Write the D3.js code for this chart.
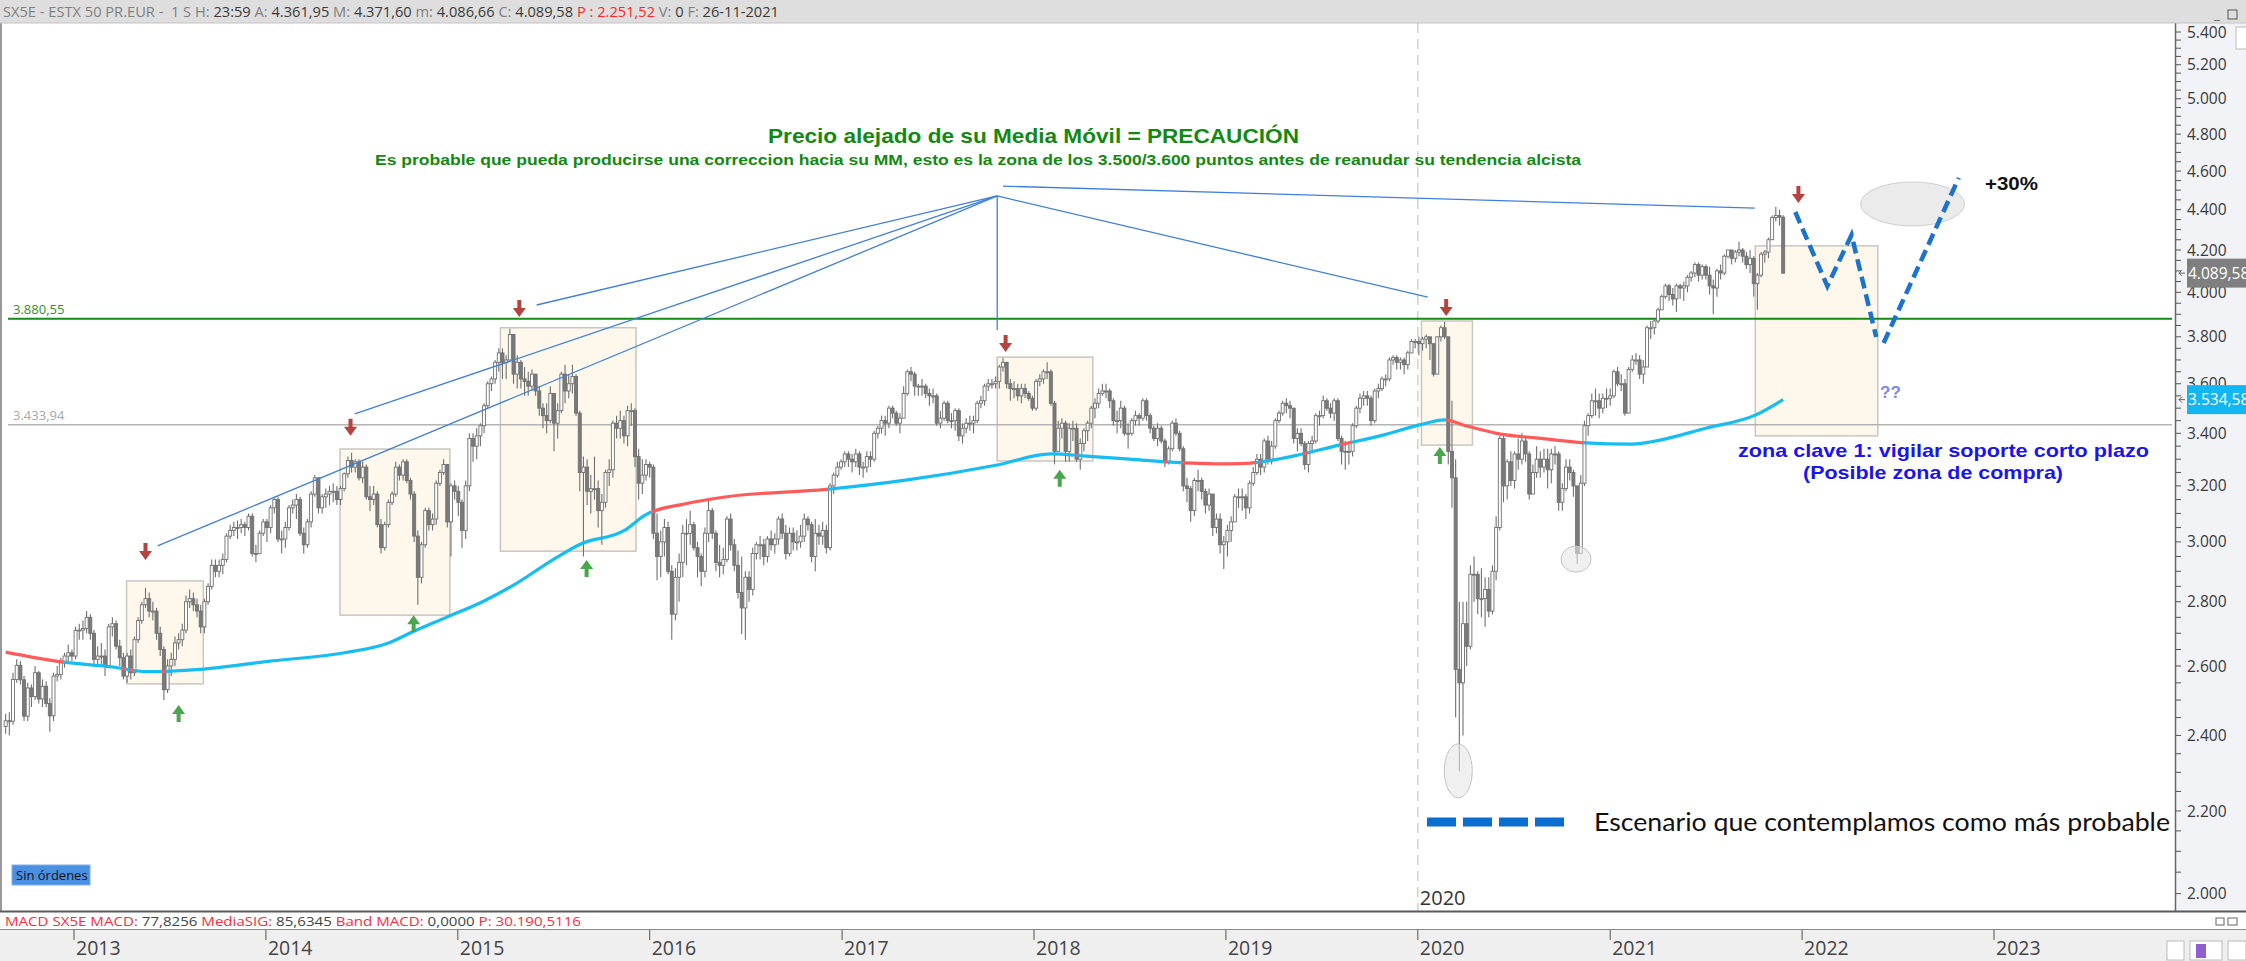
<!DOCTYPE html>
<html lang="es">
<head>
<meta charset="utf-8">
<title>SX5E semanal</title>
<script src="https://d3js.org/d3.v7.min.js"></script>
<style>
  body { margin: 0; background: #fff; }
  svg { display: block; }
  text { font-family: "Open Sans", "Noto Sans", sans-serif; }
  .arial { font-family: "Liberation Sans", Arial, sans-serif; }
  .calibri { font-family: Lato, "Open Sans", sans-serif; }
</style>
</head>
<body>
<script>

// ---- Datos: velas semanales SX5E (cierre, máximo, mínimo), apertura = cierre anterior ----
var firstWeek = "2012-08-24";
var lastWeek = "2021-11-26";
var firstOpen = 2425;

var closes = [
  2441,2440,2560,2602,2559,2454,2535,2510,2580,2503,2540,2490,2455,2570,2575,2610,2630,2640,2630,
  2709,2710,2715,2750,2700,2620,2630,2630,2600,2720,2730,2660,2625,2570,2630,2580,2680,2740,2790,2810,2770,2770,2700,2650,2530,2600,2620,2670,2680,2710,2800,2810,2790,2770,2720,2800,2850,2920,2900,2920,2940,3020,3040,3050,3050,3060,3050,3090,2960,2960,3030,3070,
  3050,3120,3150,3010,3010,3050,3120,3130,3150,3030,2990,3070,3170,3230,3120,3160,3170,3180,3180,3150,3190,3245,3295,3270,3290,3230,3270,3160,3150,3170,3060,2980,3060,3140,3170,3270,3240,3290,3220,3170,3020,2880,2990,3110,3060,3080,3210,3250,3280,3070,3200,3180,
  3140,3040,3200,3380,3350,3390,3430,3510,3600,3620,3690,3730,3690,3700,3810,3640,3690,3620,3610,3590,3640,3570,3500,3470,3450,3560,3440,3490,3640,3570,3600,3630,3480,3250,3270,3180,3190,3190,3110,3140,3250,3260,3440,3420,3450,3390,3490,3490,3310,3210,3240,3280,
  3270,3030,2950,3000,3050,2900,2760,2880,2930,3030,3030,3060,2980,2950,2900,3030,3110,3030,2930,2920,2940,3080,2990,2920,2830,2780,2880,2840,2960,2990,2990,2950,3010,2990,3010,3080,3030,2960,3030,3000,3000,3020,3080,3060,2950,3030,3020,3040,2980,3200,3240,3270,3290,
  3320,3300,3290,3320,3270,3270,3310,3300,3400,3420,3450,3440,3500,3480,3440,3460,3560,3650,3640,3590,3590,3590,3560,3550,3550,3440,3460,3520,3450,3450,3490,3390,3420,3440,3440,3450,3520,3530,3590,3600,3600,3610,3670,3690,3600,3580,3580,3550,3580,3560,3540,3500,
  3610,3620,3650,3650,3520,3330,3420,3440,3330,3420,3420,3300,3360,3410,3440,3500,3520,3560,3570,3570,3530,3450,3450,3500,3400,3400,3450,3470,3460,3530,3470,3420,3380,3420,3370,3290,3340,3440,3400,3340,3200,3190,3110,3220,3220,3180,3130,3170,3050,3080,2990,3000,
  3040,3070,3160,3160,3160,3120,3210,3250,3300,3270,3370,3300,3350,3450,3480,3520,3510,3500,3380,3400,3360,3280,3360,3370,3470,3470,3530,3500,3480,3530,3380,3330,3330,3330,3430,3500,3540,3550,3540,3450,3570,3580,3620,3620,3700,3710,3690,3700,3680,3730,3780,3780,
  3770,3790,3800,3770,3640,3800,3840,3800,3330,3230,2590,2550,2730,2660,2890,2890,2810,2810,2840,2770,2900,3050,3380,3200,3290,3220,3320,3300,3370,3320,3170,3250,3300,3270,3300,3260,3320,3320,3140,3190,3270,3250,3200,2960,3210,3430,3470,3530,3530,3500,3540,3540,
  3550,3650,3600,3600,3480,3660,3700,3700,3640,3670,3840,3840,3870,3920,3980,4030,3990,3970,4030,4020,4030,4070,4090,4130,4080,4120,4080,4030,4020,4100,4090,4170,4200,4160,4190,4200,4170,4130,4160,4040,4080,4180,4190,4250,4360,4370,4361.95,4089.58
];

var highs = [
  2460,2465,2580,2620,2615,2570,2550,2545,2600,2585,2560,2555,2505,2580,2600,2625,2640,2665,2650,
  2720,2730,2740,2770,2760,2710,2660,2670,2650,2730,2750,2740,2680,2640,2640,2650,2690,2750,2800,2845,2830,2800,2780,2720,2660,2620,2640,2690,2700,2730,2820,2840,2830,2810,2790,2810,2860,2940,2940,2940,2960,3030,3060,3070,3075,3080,3070,3100,3100,2990,3040,3080,
  3080,3130,3160,3160,3040,3070,3130,3150,3170,3160,3050,3080,3180,3240,3230,3170,3190,3200,3210,3200,3200,3250,3310,3325,3300,3300,3290,3280,3200,3200,3180,3080,3070,3150,3180,3290,3280,3300,3300,3230,3180,3040,3000,3120,3120,3100,3220,3260,3300,3280,3210,3220,
  3200,3150,3220,3400,3400,3420,3440,3520,3610,3630,3700,3750,3750,3720,3836,3810,3720,3700,3670,3650,3660,3640,3590,3520,3520,3590,3560,3520,3650,3680,3640,3680,3640,3490,3310,3300,3240,3310,3220,3170,3260,3300,3450,3470,3490,3470,3510,3520,3500,3340,3300,3300,
  3290,3280,3100,3040,3080,3070,2920,2910,2960,3060,3080,3110,3070,3000,2960,3050,3150,3120,3040,2990,2980,3090,3100,3010,2970,2950,2900,2900,2980,3000,3020,3010,3020,3040,3030,3090,3100,3060,3050,3050,3040,3060,3100,3090,3070,3080,3060,3070,3060,3210,3250,3290,3300,
  3330,3330,3320,3340,3330,3290,3330,3330,3410,3430,3470,3470,3510,3510,3490,3480,3590,3660,3670,3650,3600,3620,3600,3580,3580,3560,3490,3530,3530,3480,3500,3500,3440,3460,3470,3470,3530,3550,3600,3620,3620,3630,3680,3709,3690,3620,3610,3600,3600,3600,3570,3550,
  3620,3640,3660,3690,3660,3530,3450,3460,3450,3440,3450,3440,3380,3420,3450,3510,3540,3580,3600,3600,3580,3540,3490,3530,3510,3440,3460,3490,3480,3540,3540,3480,3430,3440,3430,3380,3350,3450,3460,3410,3350,3230,3200,3230,3260,3230,3190,3190,3170,3100,3100,3020,
  3060,3090,3170,3190,3190,3170,3220,3270,3320,3320,3380,3390,3370,3460,3490,3530,3540,3530,3500,3420,3420,3370,3370,3390,3480,3490,3550,3540,3520,3540,3540,3390,3370,3360,3440,3510,3560,3570,3570,3550,3580,3600,3630,3640,3710,3720,3720,3710,3710,3740,3790,3790,
  3800,3800,3810,3800,3760,3800,3850,3867,3800,3530,3300,2800,2800,2800,2920,2950,2900,2910,2880,2880,2920,3090,3390,3390,3300,3330,3330,3380,3400,3390,3330,3280,3350,3330,3340,3340,3340,3350,3330,3210,3300,3300,3260,3200,3240,3450,3480,3560,3580,3560,3560,3580,
  3580,3660,3670,3640,3620,3670,3720,3730,3720,3700,3850,3870,3880,3930,3990,4040,4040,4020,4040,4040,4050,4080,4100,4140,4140,4130,4130,4120,4060,4110,4130,4180,4200,4200,4200,4240,4210,4190,4200,4170,4090,4190,4200,4260,4370,4415,4400,4371.6
];

var lows = [
  2405,2400,2430,2550,2545,2440,2440,2480,2500,2490,2480,2480,2410,2440,2555,2560,2595,2610,2615,
  2620,2680,2680,2700,2680,2600,2600,2600,2570,2600,2690,2650,2600,2560,2550,2560,2570,2670,2730,2780,2750,2740,2680,2630,2500,2520,2570,2600,2650,2660,2700,2780,2770,2750,2700,2700,2790,2840,2880,2880,2890,2930,3010,3020,3010,3030,3020,3040,2950,2930,2960,3020,
  3000,3030,3100,3000,2960,2980,3040,3100,3080,3020,2960,2980,3050,3160,3100,3100,3120,3130,3140,3130,3130,3180,3230,3250,3250,3220,3210,3150,3110,3130,3050,2960,2970,3050,3130,3160,3220,3220,3210,3150,3000,2790,2860,2980,3040,3040,3060,3200,3240,3050,2950,3150,
  3090,2980,3010,3180,3290,3300,3350,3400,3500,3570,3600,3650,3620,3620,3690,3600,3580,3580,3550,3550,3570,3550,3470,3420,3400,3440,3330,3380,3480,3520,3540,3560,3470,3180,2950,3130,3100,3150,3050,2990,3120,3200,3230,3380,3380,3360,3350,3430,3270,3150,3170,3220,
  3230,3010,2870,2880,2950,2890,2680,2740,2800,2880,2920,2990,2970,2880,2850,2880,3000,3010,2900,2880,2890,2930,2970,2900,2810,2698,2680,2800,2820,2940,2940,2920,2930,2970,2960,2990,3010,2940,2950,2970,2970,2980,3000,3040,2930,2900,2990,2990,2960,2970,3170,3230,3260,
  3270,3270,3250,3270,3240,3230,3250,3270,3290,3380,3400,3390,3420,3460,3430,3400,3470,3550,3610,3550,3550,3550,3540,3510,3520,3430,3420,3450,3440,3420,3410,3370,3360,3400,3410,3400,3440,3500,3510,3570,3580,3580,3580,3650,3580,3530,3540,3530,3520,3540,3530,3490,
  3490,3590,3600,3620,3510,3280,3330,3380,3290,3290,3370,3290,3260,3330,3370,3420,3460,3500,3550,3540,3500,3430,3400,3420,3390,3340,3390,3430,3430,3450,3450,3400,3370,3350,3360,3270,3280,3330,3390,3330,3180,3140,3070,3090,3180,3150,3100,3110,3020,3030,2960,2908,
  2950,3000,3070,3120,3110,3080,3100,3200,3240,3240,3250,3280,3280,3340,3440,3470,3480,3460,3360,3330,3350,3260,3250,3330,3360,3430,3460,3490,3460,3450,3370,3280,3260,3280,3310,3420,3480,3510,3510,3430,3440,3540,3570,3590,3610,3680,3660,3660,3640,3660,3730,3750,
  3720,3740,3750,3700,3630,3640,3780,3790,3280,3120,2450,2302,2400,2600,2650,2800,2760,2750,2720,2750,2760,2870,3040,3140,3150,3200,3190,3260,3280,3290,3150,3170,3230,3230,3250,3190,3210,3280,3110,3110,3180,3220,3160,2925,2970,3200,3390,3460,3470,3460,3480,3500,
  3510,3540,3590,3570,3470,3480,3650,3680,3620,3600,3680,3790,3810,3860,3920,3970,3960,3940,3910,3970,3960,4000,4050,4070,4050,4060,4060,3990,3900,3980,4060,4080,4160,4130,4140,4170,4140,4110,4090,3980,3920,4070,4140,4160,4250,4340,4320,4086.66
];

// Media móvil
var maDates = ["2012-08-24","2012-12-01","2013-03-15","2013-05-20","2013-08-28","2014-01-05","2014-05-30","2014-08-22",
  "2014-10-05","2014-12-10","2015-02-17","2015-04-16","2015-07-09","2015-08-22","2015-11-14","2015-12-24","2016-03-07",
  "2016-05-30","2016-12-02","2017-05-05","2017-10-23","2018-02-02","2018-04-10","2018-07-02","2018-09-10","2019-01-05",
  "2019-02-17","2019-04-27","2019-08-04","2019-10-27","2020-01-04","2020-02-21","2020-04-01","2020-05-30","2020-08-22",
  "2020-11-07","2021-02-13","2021-03-21","2021-07-02","2021-10-05","2021-11-26"];
var maValues = [2642,2614,2597,2583,2590,2614,2640,2670,2703,2750,2800,2853,2948,2992,3040,3095,3134,
  3161,3187,3222,3278,3320,3312,3300,3290,3282,3285,3307,3354,3393,3433,3453,3430,3400,3380,3364,3358,3367,3420,3473,3534.58];

var priceTicks = d3.range(2000, 5401, 200);
var yearTicks = d3.range(2013, 2024);
var resistance = 3880.55;
var support = 3433.94;

// Anotaciones (fechas y niveles)
var zoneFrom = ["2013-04-11","2014-05-22","2015-03-23","2017-10-23","2020-01-08","2021-10-04"];
var zoneTo   = ["2013-09-04","2014-12-17","2015-12-06","2018-04-23","2020-04-14","2022-05-25"];
var zoneHigh = [2868, 3339, 3840, 3712, 3870, 4220];
var zoneLow  = [2547, 2757, 2968, 3293, 3354, 3390];

var sellArrows = [["2013-05-17",2938],["2014-06-11",3390],["2015-04-28",3888],["2017-11-08",3734],["2020-02-24",3892],["2021-12-25",4434]];
var buyArrows = [["2013-07-19",2486],["2014-10-09",2757],["2015-09-03",2938],["2018-02-19",3260],["2020-02-12",3347]];

var fanOrigin = ["2017-10-23", 4470];
var fanEnds = [["2013-06-09",2986],["2014-06-19",3477],["2015-05-31",3942],["2017-10-23",3830],["2020-01-20",3978]];
var topLine = [["2017-11-03",4521],["2021-10-03",4408]];

var scenarioA = [["2021-12-19",4388],["2022-02-18",4029],["2022-04-05",4273],["2022-05-22",3799]];
var scenarioB = [["2022-06-05",3773],["2022-10-26",4564]];

var lowRings = [["2020-03-18",2304],["2020-10-28",2941]];
var targetRing = ["2022-07-30",4429];

// ---- Dibujo ----
var w = 2246, h = 961;
var plot = {left: 3, right: 2175, top: 23, bottom: 911};
var cyan = "#16bdf2", red = "#ff5a5a", grey = "#707070";

var parse = d3.timeParse("%Y-%m-%d");
var loc = d3.formatLocale({decimal: ",", thousands: ".", grouping: [3], currency: ["", "€"]});
var fmtInt = loc.format(",d"), fmt2 = loc.format(",.2f");

var x = d3.scaleTime()
    .domain([new Date(2013, 0, 1), new Date(2023, 0, 1)])
    .range([74, 1994]);
var y = d3.scaleLog()
    .domain([2000, 5400])
    .range([893.6, 32]);
var pt = function(d) { return [x(parse(d[0])), y(d[1])]; };

var svg = d3.select("body").append("svg")
    .attr("width", w)
    .attr("height", h);

var defs = svg.append("defs");
defs.append("clipPath").attr("id", "clip")
  .append("rect")
    .attr("x", plot.left).attr("y", plot.top)
    .attr("width", plot.right - plot.left).attr("height", plot.bottom - plot.top);

// fondo
svg.append("rect").attr("width", w).attr("height", h).attr("fill", "#fff");
svg.append("rect").attr("x", plot.right).attr("y", plot.top)
    .attr("width", w - plot.right).attr("height", plot.bottom - plot.top).attr("fill", "#f2f3f6");

var g = svg.append("g").attr("clip-path", "url(#clip)");

// cajas de zona
zoneFrom.forEach(function(d, i) {
  var x0 = x(parse(d)), x1 = x(parse(zoneTo[i]));
  g.append("rect")
    .attr("x", x0).attr("y", y(zoneHigh[i]))
    .attr("width", x1 - x0).attr("height", y(zoneLow[i]) - y(zoneHigh[i]))
    .attr("fill", "#fdf7e8").attr("fill-opacity", 0.85)
    .attr("stroke", "#c9c6c0").attr("stroke-width", 1.5);
});

// línea vertical 2020
g.append("line")
    .attr("x1", x(new Date(2020, 0, 1))).attr("x2", x(new Date(2020, 0, 1)))
    .attr("y1", plot.top).attr("y2", plot.bottom)
    .attr("stroke", "#d0d0d0").attr("stroke-width", 1.5).attr("stroke-dasharray", "10,6");

// niveles horizontales
g.append("line").attr("x1", 8).attr("x2", 2172)
    .attr("y1", y(support)).attr("y2", y(support))
    .attr("stroke", "#b4b4b4").attr("stroke-width", 1.5);
g.append("line").attr("x1", 8).attr("x2", 2172)
    .attr("y1", y(resistance)).attr("y2", y(resistance))
    .attr("stroke", "#168a16").attr("stroke-width", 2);
g.append("text").attr("x", 13).attr("y", y(resistance) - 5)
    .attr("font-size", 13).attr("fill", "#2a962a").text(fmt2(resistance));
g.append("text").attr("x", 13).attr("y", y(support) - 5)
    .attr("font-size", 13).attr("fill", "#a8a8a8").text(fmt2(support));

// velas
var weeks = d3.timeFriday.range(parse(firstWeek), d3.timeDay.offset(parse(lastWeek), 1));
var n = Math.min(weeks.length, closes.length);
var candles = d3.range(n).map(function(i) {
  var o = i ? closes[i - 1] : firstOpen, c = closes[i];
  return {date: weeks[i], o: o, c: c,
          hi: Math.max(highs[i], o, c), lo: Math.min(lows[i], o, c)};
});

var cg = g.append("g");
cg.selectAll("line.wick")
  .data(candles)
  .enter()
  .append("line")
    .attr("class", "wick")
    .attr("x1", function(d) { return x(d.date); })
    .attr("x2", function(d) { return x(d.date); })
    .attr("y1", function(d) { return y(d.hi); })
    .attr("y2", function(d) { return y(d.lo); })
    .attr("stroke", grey).attr("stroke-width", 1.1);
cg.selectAll("rect.body")
  .data(candles)
  .enter()
  .append("rect")
    .attr("class", "body")
    .attr("x", function(d) { return x(d.date) - 1.5; })
    .attr("width", 3)
    .attr("y", function(d) { return y(Math.max(d.o, d.c)); })
    .attr("height", function(d) { return Math.max(1, y(Math.min(d.o, d.c)) - y(Math.max(d.o, d.c))); })
    .attr("fill", function(d) { return d.c >= d.o ? "#fff" : "#7a7a7a"; })
    .attr("stroke", grey).attr("stroke-width", 0.9);

// media móvil, roja/azul segun el cierre esté por debajo/encima
var ma = maDates.map(function(d, i) { return {date: parse(d), v: maValues[i]}; });
var maAt = d3.scaleTime().domain(ma.map(function(d) { return d.date; })).range(maValues);
var mx0 = x(ma[0].date), mx1 = x(ma[ma.length - 1].date);
var grad = defs.append("linearGradient").attr("id", "maGrad")
    .attr("gradientUnits", "userSpaceOnUse")
    .attr("x1", mx0).attr("x2", mx1).attr("y1", 0).attr("y2", 0);
var prevCol = null;
candles.forEach(function(d) {
  if (d.date < ma[0].date || d.date > ma[ma.length - 1].date) return;
  var col = d.c > maAt(d.date) ? cyan : red;
  if (col !== prevCol) {
    var off = Math.max(0, Math.min(1, (x(d.date) - 1.8 - mx0) / (mx1 - mx0)));
    if (prevCol) grad.append("stop").attr("offset", off).attr("stop-color", prevCol);
    grad.append("stop").attr("offset", off).attr("stop-color", col);
    prevCol = col;
  }
});
g.append("path")
    .datum(ma)
    .attr("fill", "none")
    .attr("stroke", "url(#maGrad)")
    .attr("stroke-width", 3.2)
    .attr("d", d3.line()
        .x(function(d) { return x(d.date); })
        .y(function(d) { return y(d.v); })
        .curve(d3.curveMonotoneX));

// abanico de lineas azules
fanEnds.forEach(function(e) {
  g.append("path").attr("d", d3.line()([pt(fanOrigin), pt(e)]))
    .attr("stroke", "#3f80dc").attr("stroke-width", 1.3).attr("fill", "none");
});
g.append("path").attr("d", d3.line()(topLine.map(pt)))
    .attr("stroke", "#3f80dc").attr("stroke-width", 1.3).attr("fill", "none");

// flechas
var downArrow = "M-2,-17 L2,-17 L2,-9 L6.5,-9 L0,0 L-6.5,-9 L-2,-9 Z";
sellArrows.forEach(function(a) {
  var p = pt(a);
  g.append("path").attr("d", downArrow)
    .attr("transform", "translate(" + p + ")").attr("fill", "#b5433f");
});
buyArrows.forEach(function(a) {
  var p = pt(a);
  g.append("path").attr("d", downArrow)
    .attr("transform", "translate(" + p + ") scale(1,-1)").attr("fill", "#4aa64a");
});

// elipses
var ringSize = [[14, 27], [15, 13]];
lowRings.forEach(function(r, i) {
  var p = pt(r);
  g.append("ellipse").attr("cx", p[0]).attr("cy", p[1])
    .attr("rx", ringSize[i][0]).attr("ry", ringSize[i][1])
    .attr("fill", "#e6e6e6").attr("fill-opacity", 0.6)
    .attr("stroke", "#c4c4c4").attr("stroke-width", 1);
});
var tp = pt(targetRing);
g.append("ellipse").attr("cx", tp[0]).attr("cy", tp[1]).attr("rx", 52).attr("ry", 22)
    .attr("fill", "#ebebeb").attr("stroke", "#cfcfcf").attr("stroke-width", 1);

// escenario
[scenarioA, scenarioB].forEach(function(s) {
  g.append("path").attr("d", d3.line()(s.map(pt)))
    .attr("fill", "none").attr("stroke", "#1b72cf")
    .attr("stroke-width", 4.5).attr("stroke-dasharray", "12,6");
});

// textos
function fit(sel, len) { return sel.attr("textLength", len).attr("lengthAdjust", "spacingAndGlyphs"); }

fit(svg.append("text").attr("class", "arial").attr("x", 768).attr("y", 143)
    .attr("font-size", 21).attr("font-weight", "bold").attr("fill", "#128a12")
    .text("Precio alejado de su Media Móvil = PRECAUCIÓN"), 531);
fit(svg.append("text").attr("class", "arial").attr("x", 375).attr("y", 165)
    .attr("font-size", 14).attr("font-weight", "bold").attr("fill", "#128a12")
    .text("Es probable que pueda producirse una correccion hacia su MM, esto es la zona de los 3.500/3.600 puntos antes de reanudar su tendencia alcista"), 1206);

fit(svg.append("text").attr("class", "arial").attr("x", 1985).attr("y", 190)
    .attr("font-size", 19).attr("font-weight", "bold").attr("fill", "#111").text("+30%"), 53);
svg.append("text").attr("class", "arial").attr("x", 1880).attr("y", 398)
    .attr("font-size", 17).attr("font-weight", "bold").attr("fill", "#7d86f2").text("??");
fit(svg.append("text").attr("class", "arial").attr("x", 1738).attr("y", 457)
    .attr("font-size", 19).attr("font-weight", "bold").attr("fill", "#1a14f0")
    .text("zona clave 1: vigilar soporte corto plazo"), 411);
fit(svg.append("text").attr("class", "arial").attr("x", 1803).attr("y", 479)
    .attr("font-size", 19).attr("font-weight", "bold").attr("fill", "#1a14f0")
    .text("(Posible zona de compra)"), 260);

// leyenda escenario
svg.append("line").attr("x1", 1427).attr("x2", 1568).attr("y1", 822).attr("y2", 822)
    .attr("stroke", "#0a6ed1").attr("stroke-width", 9).attr("stroke-dasharray", "29,7");
fit(svg.append("text").attr("class", "calibri").attr("x", 1594).attr("y", 831)
    .attr("font-size", 25).attr("fill", "#111")
    .text("Escenario que contemplamos como más probable"), 576);

// etiqueta 2020
svg.append("text").attr("x", x(new Date(2020, 0, 1)) + 2).attr("y", 905)
    .attr("font-size", 20).attr("fill", "#333").text("2020");

// sin órdenes
svg.append("rect").attr("x", 12).attr("y", 865).attr("width", 78).attr("height", 20)
    .attr("fill", "#4a90e2").attr("stroke", "#7fb0ec");
svg.append("text").attr("x", 16).attr("y", 880).attr("font-size", 13).attr("fill", "#111").text("Sin órdenes");

// eje de precios
svg.append("line").attr("x1", plot.right + 0.5).attr("x2", plot.right + 0.5)
    .attr("y1", plot.top).attr("y2", plot.bottom).attr("stroke", "#666").attr("stroke-width", 1.5);
d3.range(2000, 5401, 50).forEach(function(v) {
  svg.append("line").attr("x1", plot.right + 1).attr("x2", plot.right + 6)
    .attr("y1", y(v)).attr("y2", y(v)).attr("stroke", "#555");
});
svg.selectAll("text.ytick")
  .data(priceTicks)
  .enter()
  .append("text")
    .attr("class", "ytick")
    .attr("x", plot.right + 12)
    .attr("y", function(d) { return y(d); })
    .attr("dy", "0.36em")
    .attr("font-size", 15.5)
    .attr("fill", "#3a3a3a")
    .text(function(d) { return fmtInt(d); });

function valueTag(v, fill) {
  var yy = y(v);
  svg.append("rect").attr("x", plot.right + 12).attr("y", yy - 14.5)
    .attr("width", w - plot.right - 12).attr("height", 29).attr("fill", fill);
  svg.append("text").attr("x", plot.right + 13).attr("y", yy).attr("dy", "0.36em")
    .attr("font-size", 15.5).attr("fill", "#fff").text(fmt2(v));
  svg.append("path").attr("d", "M" + (plot.right + 10) + "," + yy + " h-6 m3,-3 l-3,3 l3,3")
    .attr("stroke", "#666").attr("fill", "none");
}
valueTag(closes[closes.length - 1], "#7f7f7f");
valueTag(maValues[maValues.length - 1], "#12b6f2");

// bordes del area
svg.append("line").attr("x1", 1).attr("x2", 1).attr("y1", plot.top).attr("y2", plot.bottom)
    .attr("stroke", "#777").attr("stroke-width", 1.5);

// cabecera
svg.append("rect").attr("width", w).attr("height", plot.top).attr("fill", "#dedede");
svg.append("line").attr("x1", 0).attr("x2", w).attr("y1", plot.top).attr("y2", plot.top).attr("stroke", "#c4c4c4");
var hg = "#808080", hd = "#3a3a3a";
var header = [["SX5E - ESTX 50 PR.EUR -  1 S H: ", hg], ["23:59 ", hd], ["A: ", hg], ["4.361,95 ", hd],
  ["M: ", hg], ["4.371,60 ", hd], ["m: ", hg], ["4.086,66 ", hd], ["C: ", hg], ["4.089,58 ", hd],
  ["P : 2.251,52 ", "#ff2828"], ["V: ", hg], ["0 ", hd], ["F: ", hg], ["26-11-2021", hd]];
var ht = svg.append("text").attr("x", 3).attr("y", 17).attr("font-size", 14).style("white-space", "pre");
header.forEach(function(p) { ht.append("tspan").attr("fill", p[1]).text(p[0]); });
fit(ht, 776);
svg.append("text").attr("x", 2214).attr("y", 19).attr("font-size", 13).attr("fill", "#555").text("_");
svg.append("rect").attr("x", 2228).attr("y", 10).attr("width", 9).attr("height", 9)
    .attr("fill", "none").attr("stroke", "#555");
svg.append("rect").attr("x", 2236).attr("y", 27).attr("width", 12).attr("height", 22)
    .attr("fill", "#fff").attr("stroke", "#bbb");

// fila MACD
svg.append("rect").attr("x", 0).attr("y", plot.bottom).attr("width", w).attr("height", 18).attr("fill", "#fff");
svg.append("line").attr("x1", 0).attr("x2", w).attr("y1", plot.bottom + 0.5).attr("y2", plot.bottom + 0.5)
    .attr("stroke", "#5a5a5a").attr("stroke-width", 2);
var mr = "#ff2a3a", md = "#444";
var macd = [["MACD SX5E MACD: ", mr], ["77,8256", md], [" MediaSIG: ", mr], ["85,6345", md],
  [" Band MACD: ", mr], ["0,0000", md], [" P: 30.190,5116", mr]];
var mt = svg.append("text").attr("x", 5).attr("y", 926).attr("font-size", 13.5).style("white-space", "pre");
macd.forEach(function(p) { mt.append("tspan").attr("fill", p[1]).text(p[0]); });
fit(mt, 576);
svg.append("rect").attr("x", 2216).attr("y", 918).attr("width", 8).attr("height", 7).attr("fill", "none").attr("stroke", "#666");
svg.append("rect").attr("x", 2228).attr("y", 918).attr("width", 9).attr("height", 7).attr("fill", "none").attr("stroke", "#666");

// eje de fechas
svg.append("rect").attr("x", 0).attr("y", 929).attr("width", w).attr("height", h - 929).attr("fill", "#efefef");
svg.append("line").attr("x1", 0).attr("x2", w).attr("y1", 929.5).attr("y2", 929.5).attr("stroke", "#8a8a8a");
yearTicks.forEach(function(yr) {
  var xx = x(new Date(yr, 0, 1));
  svg.append("line").attr("x1", xx).attr("x2", xx).attr("y1", 930).attr("y2", 940).attr("stroke", "#555");
  svg.append("text").attr("x", xx + 2).attr("y", 955).attr("font-size", 19.5).attr("fill", "#444").text(yr);
});
svg.append("rect").attr("x", 2167).attr("y", 941).attr("width", 17).attr("height", 19).attr("fill", "#fff").attr("stroke", "#bbb");
svg.append("rect").attr("x", 2190).attr("y", 941).attr("width", 32).attr("height", 19).attr("fill", "#fff").attr("stroke", "#bbb");
svg.append("rect").attr("x", 2196).attr("y", 944).attr("width", 10).attr("height", 14).attr("fill", "#8e5fd0");
svg.append("rect").attr("x", 2228).attr("y", 941).attr("width", 18).attr("height", 19).attr("fill", "#fff").attr("stroke", "#bbb");

</script>
</body>
</html>
